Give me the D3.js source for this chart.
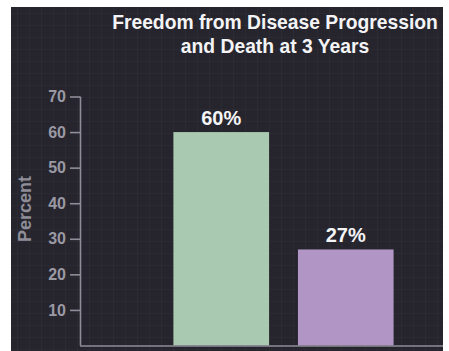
<!DOCTYPE html>
<html>
<head>
<meta charset="utf-8">
<script src="https://cdn.jsdelivr.net/npm/d3@7"></script>
<style>
  html, body { margin: 0; padding: 0; background: #ffffff; }
  svg { display: block; }
  text { font-family: "Liberation Sans", Arial, sans-serif; font-weight: bold; }
</style>
</head>
<body>
<svg id="chart" width="449" height="351"></svg>
<script>
// Chart data
const categories = ["Treatment", "Control"];
const values = [60, 27];
const barColors = ["#a9c9b1", "#b196c5"];
const tickValues = [10, 20, 30, 40, 50, 60, 70];
const titleLines = ["Freedom from Disease Progression", "and Death at 3 Years"];
const yLabel = "Percent";

const svg = d3.select("#chart");

// Dark slide panel
const panel = { x: 11, y: 7, w: 432, h: 344 };
svg.append("rect")
  .attr("x", panel.x).attr("y", panel.y)
  .attr("width", panel.w).attr("height", panel.h)
  .attr("fill", "#26252e");

// Faint background grid
const grid = svg.append("g").attr("stroke", "#ffffff").attr("stroke-opacity", 0.022).attr("stroke-width", 1);
for (let gx = panel.x + 6; gx < panel.x + panel.w; gx += 12) {
  grid.append("line").attr("x1", gx + 0.5).attr("x2", gx + 0.5).attr("y1", panel.y).attr("y2", panel.y + panel.h);
}
for (let gy = panel.y + 6; gy < panel.y + panel.h; gy += 12) {
  grid.append("line").attr("y1", gy + 0.5).attr("y2", gy + 0.5).attr("x1", panel.x).attr("x2", panel.x + panel.w);
}

// Scales
const y = d3.scaleLinear().domain([0, 70]).range([345.5, 96.5]);
const x = d3.scaleBand().domain(categories).range([148.5, 418.5]).paddingInner(0.232).paddingOuter(0.2);

const axisColor = "#8f8e98";
const tickTextColor = "#9a99a3";

// Title
svg.append("g").selectAll("text").data(titleLines).join("text")
  .attr("x", 275)
  .attr("y", (d, i) => 29 + i * 23.5)
  .attr("text-anchor", "middle")
  .attr("fill", "#f4f4f6")
  .attr("font-size", 19.3)
  .text(d => d);

// Bars
svg.append("g").selectAll("rect").data(values).join("rect")
  .attr("x", (d, i) => x(categories[i]))
  .attr("width", x.bandwidth())
  .attr("y", d => y(d))
  .attr("height", d => y(0) - y(d))
  .attr("fill", (d, i) => barColors[i]);

// Value labels
svg.append("g").selectAll("text").data(values).join("text")
  .attr("x", (d, i) => x(categories[i]) + x.bandwidth() / 2)
  .attr("y", d => y(d) - 7)
  .attr("text-anchor", "middle")
  .attr("fill", "#f4f4f6")
  .attr("font-size", 20)
  .text(d => d + "%");

// Y axis
const yAxis = d3.axisLeft(y).tickValues(tickValues).tickSize(10).tickPadding(4).tickSizeOuter(0);
const gy = svg.append("g").attr("transform", "translate(80,0)").call(yAxis);
gy.attr("font-size", 16).attr("font-family", null);
gy.select(".domain").attr("stroke", axisColor).attr("stroke-width", 1.6)
  .attr("d", `M0.5,${y(70)}V${y(0)}`);
gy.selectAll(".tick line").attr("stroke", axisColor).attr("stroke-width", 1.6);
gy.selectAll(".tick text")
  .attr("fill", tickTextColor)
  .style("font-size", "16px")
  .style("font-weight", "bold");

// Baseline
svg.append("line")
  .attr("x1", 80).attr("x2", panel.x + panel.w)
  .attr("y1", y(0) + 0.5).attr("y2", y(0) + 0.5)
  .attr("stroke", axisColor).attr("stroke-width", 1.6);

// Y axis title
svg.append("text")
  .attr("transform", `translate(31,209) rotate(-90)`)
  .attr("text-anchor", "middle")
  .attr("fill", axisColor)
  .attr("font-size", 18)
  .text(yLabel);
</script>
</body>
</html>
